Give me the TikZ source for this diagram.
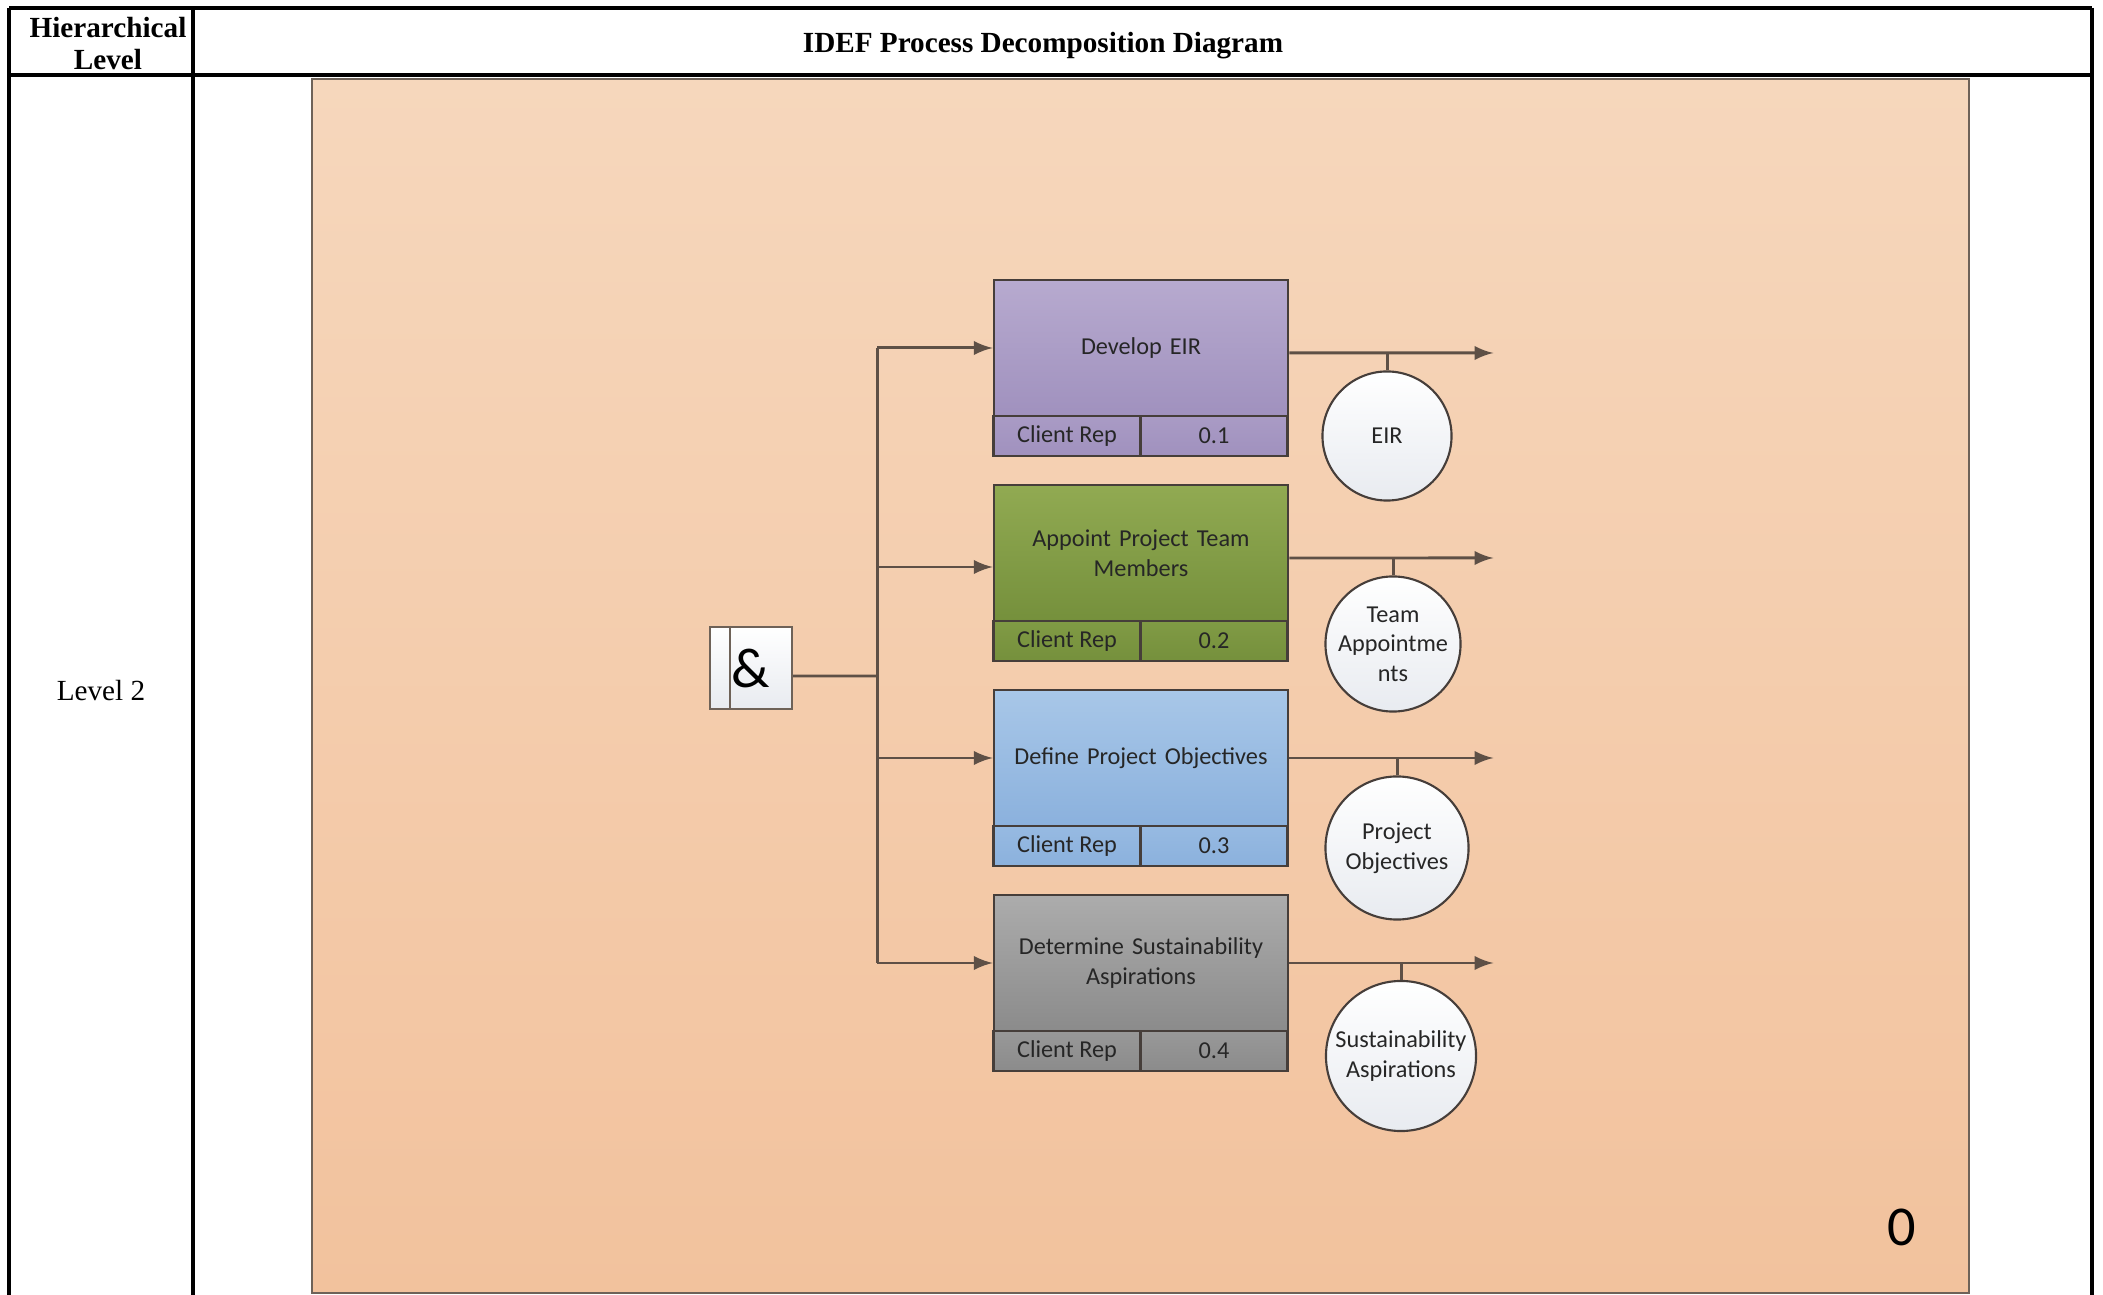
\documentclass[tikz,border=0pt]{standalone}
\usepackage{fontspec}
\setmainfont{Liberation Serif}
\newfontfamily\visiofont{Carlito}
\usetikzlibrary{positioning,calc}
\definecolor{paneltop}{RGB}{246,215,188}
\definecolor{panel}{RGB}{242,194,157}
\definecolor{panelline}{RGB}{110,98,88}
\definecolor{linecol}{RGB}{94,80,70}
\definecolor{boxline}{RGB}{70,62,58}
\definecolor{textdark}{RGB}{38,38,38}
\definecolor{eirtop}{RGB}{183,170,207}
\definecolor{eir}{RGB}{160,145,190}
\definecolor{teamtop}{RGB}{145,170,82}
\definecolor{team}{RGB}{117,144,60}
\definecolor{objtop}{RGB}{168,199,232}
\definecolor{obj}{RGB}{139,177,221}
\definecolor{susttop}{RGB}{172,172,172}
\definecolor{sust}{RGB}{139,139,139}
\definecolor{circbottom}{RGB}{232,235,240}
\newcommand{\idefbox}[5]{
  % #1 name, #2 top edge, #3 colour, #4 title, #5 number
  \draw (1141,#2+68) node[procmain,top color=#3top,bottom color=#3] (#1) {#4};
  \draw (1067,#2+156) node[procstrip,top color=#3top!40!#3,bottom color=#3] (#1r) {Client Rep};
  \draw (1214,#2+156) node[procstrip,top color=#3top!40!#3,bottom color=#3] (#1n) {#5};
}
\tikzstyle{procmain}=[draw=boxline, line width=.7pt, minimum width=2.94cm, minimum height=1.36cm, text width=2.8cm, align=center, inner sep=0pt, text=textdark, font=\visiofont\fontsize{6.9}{8.4}\selectfont]
\tikzstyle{procstrip}=[draw=boxline, line width=.7pt, minimum width=1.47cm, minimum height=.40cm, inner sep=0pt, text=textdark, font=\visiofont\fontsize{6.9}{8.4}\selectfont]
\tikzstyle{output}=[circle, draw=boxline, line width=.6pt, top color=white, bottom color=circbottom, align=center, inner sep=0pt, text=textdark, font=\visiofont\fontsize{6.9}{8.4}\selectfont]
\tikzstyle{flow}=[-latex, draw=linecol, line width=.85pt]
\tikzstyle{link}=[draw=linecol, line width=.85pt]
\tikzstyle{rule}=[draw=black, line width=.9pt]
\tikzset{y=-0.01cm}
\tikzset{x=0.01cm}

\begin{document}
\begin{tikzpicture}
  \fill[white] (0,0) rectangle (2103,1295);
  \useasboundingbox (0,0) rectangle (2103,1295);

  %% Table frame
  \draw[rule] (9,8) -- (2092,8);
  \draw[rule] (9,75) -- (2092,75);
  \draw[rule] (9,8) -- (9,1295);
  \draw[rule] (193,8) -- (193,1295);
  \draw[rule] (2092,8) -- (2092,1295);
  \draw (108,44) node[align=center,font=\bfseries\fontsize{8.3}{9.1}\selectfont] (hdrlevel) {Hierarchical\\Level};
  \draw (1043,46) node[font=\bfseries\fontsize{8.3}{9.1}\selectfont] (hdrdiag) {IDEF Process Decomposition Diagram};
  \draw (101,691) node[font=\fontsize{8.3}{9.1}\selectfont] (level) {Level 2};

  %% Diagram page
  \shade[top color=paneltop,bottom color=panel,draw=panelline,line width=.8pt] (312,79) rectangle (1969,1293);
  \draw (1902,1227) node[font=\visiofont\fontsize{16}{18}\selectfont] (page) {0};

  %% Junction
  \draw (751,668) node[draw=panelline,line width=.6pt,top color=white,bottom color=circbottom,minimum width=.82cm,minimum height=.82cm,inner sep=0pt,font=\visiofont\fontsize{16}{18}\selectfont] (AND) {\&};
  \draw[draw=panelline,line width=.6pt] ([xshift=.21cm]AND.north west) -- ([xshift=.21cm]AND.south west);
  \coordinate (spine) at (877,676);

  %% Activities
  \idefbox{P1}{280}{eir}{Develop EIR}{0.1}
  \idefbox{P2}{485}{team}{Appoint Project Team\\Members}{0.2}
  \idefbox{P3}{690}{obj}{Define Project Objectives}{0.3}
  \idefbox{P4}{895}{sust}{Determine Sustainability\\Aspirations}{0.4}

  %% Outputs
  \draw (1387,436) node[output,minimum size=1.29cm] (C1) {EIR};
  \draw (1393,644) node[output,minimum size=1.35cm] (C2) {Team\\Appointme\\nts};
  \draw (1397,848) node[output,minimum size=1.43cm] (C3) {Project\\Objectives};
  \draw (1401,1056) node[output,minimum size=1.50cm] (C4) {Sustainability\\Aspirations};

  %% Connectors
  \draw[link] ([yshift=-.08cm]AND.east) -- (spine);
  \draw[link] (P1.west -| spine) -- (P4.west -| spine);
  \draw[flow] (P1.west -| spine) -- (P1.west);
  \draw[flow] ([yshift=-.14cm]P2.west -| spine) -- ([yshift=-.14cm]P2.west);
  \draw[flow] (P3.west -| spine) -- (P3.west);
  \draw[flow] (P4.west -| spine) -- (P4.west);

  \coordinate (O1) at ($(P1.east)+(204,5)$);
  \coordinate (O2) at ($(P2.east)+(204,5)$);
  \coordinate (O3) at ($(P3.east)+(204,0)$);
  \coordinate (O4) at ($(P4.east)+(204,0)$);
  \draw[flow] ([yshift=-.05cm]P1.east) -- (O1);
  \draw[flow] ([yshift=-.05cm]P2.east) -- (O2);
  \draw[flow] (P3.east) -- (O3);
  \draw[flow] (P4.east) -- (O4);
  \draw[link] (C1.north) -- (C1.north |- O1);
  \draw[link] (C2.north) -- (C2.north |- O2);
  \draw[link] (C3.north) -- (C3.north |- O3);
  \draw[link] (C4.north) -- (C4.north |- O4);
\end{tikzpicture}
\end{document}
